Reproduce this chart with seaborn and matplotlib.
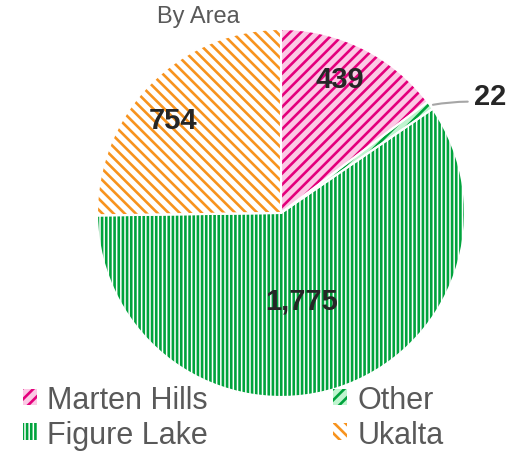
import numpy as np
import matplotlib
matplotlib.use('Agg')
import matplotlib.pyplot as plt
import seaborn as sns

# data
areas = ['Marten Hills', 'Other', 'Figure Lake', 'Ukalta']
wells = [439, 22, 1775, 754]
value_labels = ['439', '22', '1,775', '754']

sns.set_style('white')
plt.rcParams['font.family'] = ['Liberation Sans', 'DejaVu Sans']
plt.rcParams['hatch.linewidth'] = 1.9

face_colors = ['#fcc9e5', '#bff5cf', 'white', 'white']
hatch_colors = ['#e4007c', '#00a33c', '#00a33c', '#f7931e']
hatches = ['///', '///', '||||', '\\\\\\']

# where each number sits (data coords of the unit pie)
label_pos = [(0.32, 0.728), (1.136, 0.636), (0.114, -0.478), (-0.587, 0.505)]

fig = plt.figure(figsize=(5.21, 4.52), dpi=100)
ax = fig.add_axes([0.1862, 0.1195, 0.7063, 0.8142])

wedges, _ = ax.pie(wells, startangle=90, counterclock=False, radius=1,
                   colors=face_colors, wedgeprops=dict(linewidth=0))
for w, hc, h in zip(wedges, hatch_colors, hatches):
    w.set_hatch(h)
    w.set_edgecolor(hc)

# white separators between slices
ax.pie(wells, startangle=90, counterclock=False, radius=1,
       colors=['none'] * 4, wedgeprops=dict(edgecolor='white', linewidth=1.5))

ax.set_xlim(-1, 1)
ax.set_ylim(-1, 1)
ax.set_aspect('equal')

for (x, y), txt in zip(label_pos, value_labels):
    ax.text(x, y, txt, ha='center', va='center', fontsize=21,
            fontweight='bold', color='#262626')

# leader line for the small "Other" slice
w = wedges[1]
mid = np.deg2rad((w.theta1 + w.theta2) / 2)
ax.annotate('', xy=(np.cos(mid), np.sin(mid)), xytext=(1.03, 0.605),
            arrowprops=dict(arrowstyle='-', color='#a6a6a6', lw=1.5,
                            connectionstyle='arc3,rad=0.05'))

fig.text(198 / 521, 1 - 17 / 452, 'By Area', ha='center', va='center',
         fontsize=17, color='#595959')

order = [0, 2, 1, 3]
fig.legend([wedges[i] for i in order], [areas[i] for i in order],
           ncol=2, loc='upper left', bbox_to_anchor=(23 / 521, 1 - 386 / 452),
           frameon=False, fontsize=22, handlelength=0.45, handleheight=0.45,
           handletextpad=0.35, columnspacing=4.1, labelspacing=0.15,
           borderpad=0, borderaxespad=0, labelcolor='#595959')

fig.savefig('out.png', dpi=100)
